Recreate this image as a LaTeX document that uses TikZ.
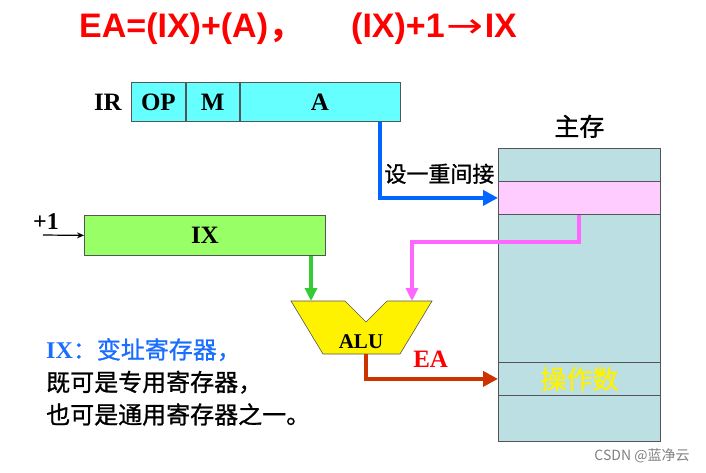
\documentclass[tikz,border=0pt]{standalone}
\usepackage{graphicx}
\usepackage{fontspec}
\setmainfont{Liberation Serif}
\newfontfamily\cjk[FakeBold=1]{Noto Sans CJK SC}
\newfontfamily\cjklight{Noto Sans CJK SC}
\newfontfamily\headfont{Liberation Sans}
\newfontfamily\symfont{DejaVu Sans}
\usetikzlibrary{arrows.meta,positioning}

\definecolor{ircyan}{HTML}{66FFFF}
\definecolor{ixgreen}{HTML}{99FF66}
\definecolor{memblue}{HTML}{BBDFE2}
\definecolor{ptrpink}{HTML}{FFCCFF}
\definecolor{arrblue}{HTML}{0066FF}
\definecolor{arrgreen}{HTML}{33CC33}
\definecolor{arrpink}{HTML}{FF66FF}
\definecolor{arrorange}{HTML}{CC3300}
\definecolor{txtblue}{HTML}{1A6EFF}
\definecolor{edgegray}{HTML}{555555}

\begin{document}
\begin{tikzpicture}[x=1pt,y=-1pt,
	field/.style={draw=edgegray, line width=0.8pt, minimum height=39pt, inner sep=0pt, font=\fontsize{25}{25}\bfseries\selectfont},
	cell/.style={draw=edgegray, line width=0.8pt, minimum width=162pt, minimum height=33pt, inner sep=0pt},
	route/.style={line width=4pt},
	head/.style={anchor=base west, text=red, inner sep=0pt, font=\headfont\fontsize{34}{34}\bfseries\selectfont}]
				\useasboundingbox (0,0) rectangle (706,472);
				
				\node[head] (fea) at (79,37) {EA=(IX)+(A){\cjklight ，}};
				\node[head] (fix) at (351,37) {(IX)+1\kern2pt{\symfont\mdseries\scalebox{1.3}[1]{→}}\kern1ptIX};
				
				\node[field, fill=ircyan, minimum width=54pt, anchor=north west] (op) at (131,82) {OP};
				\node[field, fill=ircyan, minimum width=53pt, right=0pt of op] (m) {M};
				\node[field, fill=ircyan, minimum width=160pt, right=0pt of m] (a) {A};
				\node[left=9pt of op, inner sep=0pt, font=\fontsize{25}{25}\bfseries\selectfont] (ir) {IR};
				
				\node[field, fill=ixgreen, minimum width=241pt, minimum height=40pt, anchor=north west] (ix) at (84,215) {IX};
				\node[inner sep=0pt, font=\fontsize{24}{24}\bfseries\selectfont] (inc) at (46,222) {+1};
				\coordinate (incstart) at (43,235);
				\draw[line width=1.2pt, -{Stealth[length=7pt,width=6pt]}] (incstart) -- (ix.west);
				
				\node[draw=edgegray, line width=0.8pt, fill=memblue, minimum width=162pt, minimum height=293pt, inner sep=0pt, anchor=north west] (mem) at (498,148) {};
				\node[cell, fill=ptrpink, anchor=north] (ptr) at ([yshift=-33pt]mem.north) {};
				\node[cell, anchor=north, text=yellow, font=\cjk\fontsize{26}{26}\selectfont] (opd) at ([yshift=-214pt]mem.north) {操作数};
				\node[above=10pt of mem, inner sep=0pt, font=\cjk\fontsize{25}{25}\selectfont] (memlabel) {主存};
				
				\draw[draw=edgegray, line width=0.6pt, fill=yellow] (291,301) -- (345,301) -- (366,322) -- (387,301) -- (432,301) -- (400,354) -- (323,354) -- cycle;
				\node[inner sep=0pt, font=\fontsize{21}{21}\bfseries\selectfont] (alu) at (361,342) {ALU};
				\coordinate (aluin1) at (311,301);
				\coordinate (aluin2) at (412,301);
				\coordinate (aluout) at (366,354);
				
				\draw[route, arrblue, -{Triangle[length=15pt,width=15pt]}] ([xshift=-20pt]a.south east) |- node[pos=0.5, anchor=south west, inner sep=0pt, xshift=2pt, yshift=12pt, text=black, font=\cjk\fontsize{22}{22}\selectfont] (indir) {设一重间接} (ptr.west);
				\draw[route, arrpink, -{Triangle[length=13pt,width=12pt]}] (ptr.south) -- ++(0,27) -| (aluin2);
				\draw[route, arrgreen, -{Triangle[length=13pt,width=12pt]}] (ix.south -| aluin1) -- (aluin1);
				\draw[route, arrorange, -{Triangle[length=15pt,width=15pt]}] (aluout) |- node[pos=0.745, above=9pt, inner sep=0pt, text=red, font=\fontsize{25}{25}\bfseries\selectfont] (ealabel) {EA} (opd.west);
				
				\node[anchor=north west, align=left, inner sep=0pt, font=\cjk\fontsize{24}{32.5}\selectfont] (note) at (46,338) {{\color{txtblue}{\rmfamily\bfseries IX}：变址寄存器，}\\既可是专用寄存器，\\也可是通用寄存器之一。};
				
				\node[text=gray, inner sep=0pt, font=\cjklight\fontsize{14}{14}\selectfont] (mark) at (642,456) {CSDN @蓝净云};
			\end{tikzpicture}
\end{document}
